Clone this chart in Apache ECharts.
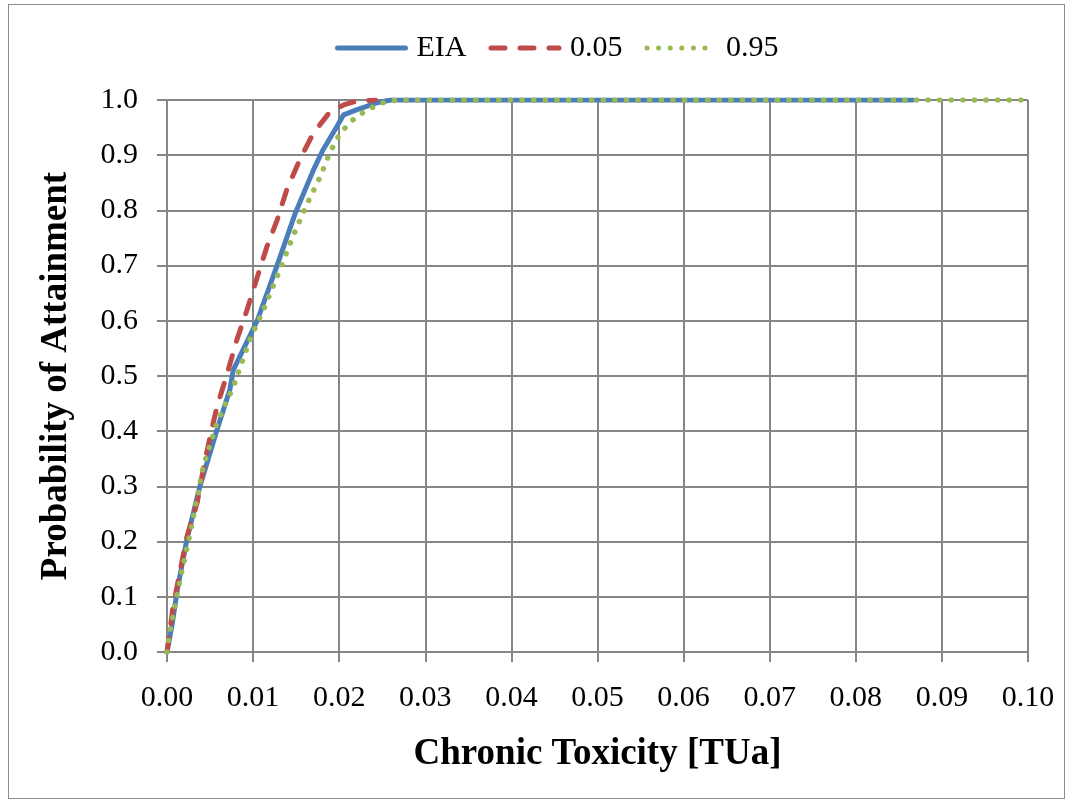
<!DOCTYPE html>
<html>
<head>
<meta charset="utf-8">
<script src="https://cdn.jsdelivr.net/npm/echarts@6/dist/echarts.min.js"></script>
<style>
  html, body { margin: 0; padding: 0; background: #fff; }
  #chart { position: absolute; left: 0; top: 0; width: 1074px; height: 805px; }
  #frame { position: absolute; left: 8px; top: 4px; width: 1057px; height: 795px; border: 1.5px solid #8c8c8c; box-sizing: border-box; pointer-events: none; }
</style>
</head>
<body>
<div id="chart"></div>
<div id="frame"></div>
<script>
  // values
  const eiaX = [0, 0.0006, 0.0012, 0.0023, 0.0038, 0.0058, 0.0073, 0.0077, 0.0091, 0.0105, 0.0128, 0.0149, 0.017, 0.0181, 0.0197, 0.0205, 0.022, 0.0244, 0.026, 0.04, 0.06, 0.0866];
  const eiaY = [0, 0.05, 0.113, 0.203, 0.299, 0.402, 0.475, 0.511, 0.556, 0.601, 0.701, 0.795, 0.873, 0.909, 0.951, 0.973, 0.982, 0.995, 1.0, 1.0, 1.0, 1.0];

  const p05X = [0, 0.0007, 0.0023, 0.0035, 0.0042, 0.005, 0.0058, 0.007, 0.0081, 0.0093, 0.0105, 0.0116, 0.0128, 0.0139, 0.0154, 0.017, 0.0189, 0.0205, 0.022, 0.0242];
  const p05Y = [0, 0.082, 0.208, 0.27, 0.33, 0.39, 0.444, 0.505, 0.565, 0.62, 0.68, 0.734, 0.783, 0.837, 0.891, 0.94, 0.978, 0.991, 0.998, 1.0];

  const p95X = [0, 0.0003, 0.0015, 0.0027, 0.0042, 0.0058, 0.0077, 0.0096, 0.0112, 0.0131, 0.0146, 0.0163, 0.0178, 0.0189, 0.0201, 0.0216, 0.0232, 0.0251, 0.0267, 0.05, 0.0996];
  const p95Y = [0, 0.035, 0.13, 0.216, 0.335, 0.415, 0.48, 0.565, 0.62, 0.692, 0.752, 0.813, 0.861, 0.904, 0.94, 0.964, 0.982, 0.995, 1.0, 1.0, 1.0];

  const colors = { eia: "#4a7ebb", p05: "#be4b48", p95: "#98b954" };
  const serif = "'Liberation Serif', 'DejaVu Serif', serif";
  const gridGray = "#868686";

  function pairs(xs, ys) {
    return xs.map((x, i) => [x, ys[i]]);
  }

  const chart = echarts.init(document.getElementById("chart"));
  chart.setOption({
    backgroundColor: "#fff",
    animation: false,
    legend: {
      top: 28,
      left: 330,
      itemWidth: 68,
      itemHeight: 14,
      itemGap: 22,
      itemStyle: { opacity: 0 },
      lineStyle: { width: 5 },
      textStyle: { fontFamily: serif, fontSize: 30, color: "#000", padding: [0, 0, 0, 6] },
      data: ["EIA", "0.05", "0.95"],
    },
    grid: { left: 167, right: 46, top: 100, bottom: 153 },
    xAxis: {
      type: "value",
      min: 0,
      max: 0.1,
      interval: 0.01,
      name: "Chronic Toxicity [TUa]",
      nameLocation: "middle",
      nameGap: 84,
      nameTextStyle: { fontFamily: serif, fontSize: 37, fontWeight: "bold", color: "#000" },
      axisLine: { show: true, lineStyle: { color: gridGray, width: 2 } },
      axisTick: { show: true, length: 10, lineStyle: { color: gridGray, width: 2 } },
      axisLabel: { fontFamily: serif, fontSize: 30, color: "#000", margin: 31, formatter: (v) => v.toFixed(2) },
      splitLine: { show: true, lineStyle: { color: gridGray, width: 2 } },
    },
    yAxis: {
      type: "value",
      min: 0,
      max: 1,
      interval: 0.1,
      name: "Probability of Attainment",
      nameLocation: "middle",
      nameGap: 92,
      nameTextStyle: { fontFamily: serif, fontSize: 37, fontWeight: "bold", color: "#000" },
      axisLine: { show: true, lineStyle: { color: gridGray, width: 2 } },
      axisTick: { show: true, length: 10, lineStyle: { color: gridGray, width: 2 } },
      axisLabel: { fontFamily: serif, fontSize: 30, color: "#000", margin: 29, formatter: (v) => v.toFixed(1) },
      splitLine: { show: true, lineStyle: { color: gridGray, width: 2 } },
    },
    series: [
      {
        name: "EIA",
        type: "line",
        symbol: "none",
        itemStyle: { color: colors.eia },
        lineStyle: { color: colors.eia, width: 5, cap: "round", join: "round" },
        data: pairs(eiaX, eiaY),
        z: 2,
      },
      {
        name: "0.05",
        type: "line",
        symbol: "none",
        itemStyle: { color: colors.p05 },
        lineStyle: { color: colors.p05, width: 5, type: [14, 15], cap: "round", join: "round" },
        data: pairs(p05X, p05Y),
        z: 3,
      },
      {
        name: "0.95",
        type: "line",
        symbol: "none",
        itemStyle: { color: colors.p95 },
        lineStyle: { color: colors.p95, width: 5.5, type: [0.1, 11.5], cap: "round", join: "round" },
        data: pairs(p95X, p95Y),
        z: 4,
      },
    ],
  });
</script>
</body>
</html>
